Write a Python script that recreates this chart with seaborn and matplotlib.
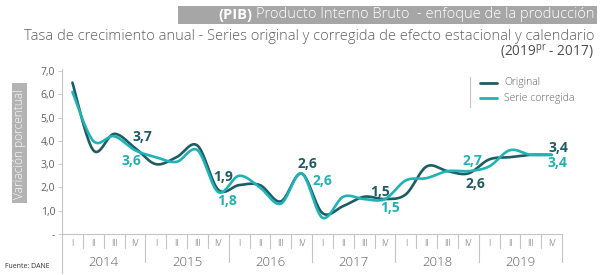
import numpy as np
import pandas as pd
import seaborn as sns
import matplotlib.pyplot as plt
from matplotlib.lines import Line2D
from matplotlib.patches import Rectangle

sns.set_theme(style="white")
plt.rcParams['font.family'] = ['Open Sans', 'DejaVu Sans']

# --- data -------------------------------------------------------------------
years = ['2014', '2015', '2016', '2017', '2018', '2019']
quarters = ['I', 'II', 'III', 'IV']
original = [6.5, 3.6, 4.3, 3.7, 3.0, 3.3, 3.8, 1.9, 2.1, 2.1, 1.4, 2.6,
            0.9, 1.2, 1.6, 1.5, 1.7, 2.9, 2.7, 2.6, 3.2, 3.3, 3.4, 3.4]
corregida = [6.1, 4.0, 4.2, 3.6, 3.3, 3.1, 3.6, 1.8, 2.5, 2.0, 1.3, 2.6,
             0.7, 1.6, 1.5, 1.5, 2.3, 2.4, 2.7, 2.7, 2.9, 3.6, 3.4, 3.4]
y_ticks = [0, 1, 2, 3, 4, 5, 6, 7]
y_ticklabels = ['-', '1,0', '2,0', '3,0', '4,0', '5,0', '6,0', '7,0']

DARK = '#1d5c64'
CYAN = '#1fb3b6'
GREY = '#5f5f5f'
LINEC = '#c4c4c4'

W, H = 601, 275


def fx(x):
    return x / W


def fy(y):
    return 1 - y / H


def smooth(xs, ys, n=20):
    # Excel-style smoothed line (Catmull-Rom through the points)
    p = np.column_stack([xs, ys]).astype(float)
    p = np.vstack([p[0], p, p[-1]])
    out = []
    for i in range(1, len(p) - 2):
        p0, p1, p2, p3 = p[i - 1], p[i], p[i + 1], p[i + 2]
        c1 = p1 + (p2 - p0) / 6
        c2 = p2 - (p3 - p1) / 6
        t = np.linspace(0, 1, n, endpoint=False)[:, None]
        seg = ((1 - t) ** 3) * p1 + 3 * ((1 - t) ** 2) * t * c1 \
            + 3 * (1 - t) * t ** 2 * c2 + t ** 3 * p2
        out.append(seg)
    out.append(p[-2][None, :])
    out = np.vstack(out)
    return out[:, 0], out[:, 1]


xq = np.arange(len(original)) + 0.5

fig = plt.figure(figsize=(W / 100, H / 100), dpi=100)
ax_h = 163
ax = fig.add_axes([fx(62), fy(234), 500 / W, ax_h / H])

for vals, col in [(original, DARK), (corregida, CYAN)]:
    sx, sy = smooth(xq, vals)
    df = pd.DataFrame({'x': sx, 'y': sy})
    sns.lineplot(data=df, x='x', y='y', sort=False, estimator=None,
                 color=col, linewidth=1.9, ax=ax)

ax.set_xlim(0, 24)
ax.set_ylim(0, 7)
ax.set_xlabel('')
ax.set_ylabel('')
for s in ['top', 'right', 'left']:
    ax.spines[s].set_visible(False)
ax.spines['bottom'].set_color(LINEC)
ax.spines['bottom'].set_linewidth(0.8)
ax.set_xticks([])
ax.set_yticks(y_ticks)
ax.set_yticklabels(y_ticklabels, fontsize=7.5, color=GREY)
ax.tick_params(axis='y', length=3, width=0.6, color=LINEC, pad=2, left=True)

# y axis line (extends below into the category area)
ax.add_line(Line2D([0, 0], [1.01, -39 / ax_h], transform=ax.transAxes,
                   color=LINEC, lw=0.8, clip_on=False))

# category separators and labels
trans = ax.get_xaxis_transform()
for k in range(1, 25):
    depth = 28 / ax_h if k % 4 == 0 else 14 / ax_h
    ax.add_line(Line2D([k, k], [0, -depth], transform=trans,
                       color=LINEC, lw=0.8, clip_on=False))
for i in range(24):
    ax.text(i + 0.5, -9 / ax_h, quarters[i % 4], transform=trans,
            ha='center', va='center', fontsize=6.5, color=GREY,
            fontweight='light')
for j, yr in enumerate(years):
    ax.text(j * 4 + 2, -28 / ax_h, yr, transform=trans,
            ha='center', va='center', fontsize=9.5, color=GREY,
            fontweight='light')

# data labels at each fourth quarter
offsets_o = [(8, 11), (5, 13), (6, 9), (-5, 7), (7, -11), (7, 7)]
offsets_c = [(-3, -11), (9, -9), (21, -8), (5, -9), (4, 10), (6, -8)]
for j in range(6):
    i = j * 4 + 3
    ax.annotate(f'{original[i]:.1f}'.replace('.', ','), (xq[i], original[i]),
                xytext=offsets_o[j], textcoords='offset pixels',
                ha='center', va='center', fontsize=10, fontweight='bold',
                color=DARK)
    ax.annotate(f'{corregida[i]:.1f}'.replace('.', ','), (xq[i], corregida[i]),
                xytext=offsets_c[j], textcoords='offset pixels',
                ha='center', va='center', fontsize=10, fontweight='bold',
                color=CYAN)

# legend
fig.add_artist(Line2D([fx(470), fx(470)], [fy(77), fy(107)], color=LINEC, lw=0.8))
for yy, col, lab in [(83, DARK, 'Original'), (98, CYAN, 'Serie corregida')]:
    fig.add_artist(Line2D([fx(480), fx(497)], [fy(yy), fy(yy)], color=col, lw=2))
    fig.text(fx(504), fy(yy), lab, fontsize=7.5, color=GREY, va='center',
             ha='left', fontweight='light')

# y label box
fig.add_artist(Rectangle((fx(12), fy(203)), 15 / W, 120 / H,
                         transform=fig.transFigure, color='#b3b3b3', lw=0))
fig.text(fx(19.5), fy(144), 'Variación porcentual', rotation=90,
         ha='center', va='center', fontsize=8.6, color='white',
         fontweight='light')

# titles
fig.add_artist(Rectangle((fx(178), fy(24)), 419 / W, 18 / H,
                         transform=fig.transFigure, color='#a6a6a6', lw=0))
t1 = fig.text(fx(594), fy(15), 'Producto Interno Bruto  - enfoque de la producción',
              fontsize=10.5, color='white', ha='right', va='center',
              fontweight='light')
fig.canvas.draw()
bb = t1.get_window_extent()
fig.text(bb.x0 / W - 3 / W, fy(15), '(PIB)', fontsize=10.5, color='white',
         ha='right', va='center', fontweight='bold')
fig.text(fx(594), fy(37), 'Tasa de crecimiento anual - Series original y corregida '
         'de efecto estacional y calendario', fontsize=10.5, color=GREY,
         ha='right', va='center', fontweight='light')
fig.text(fx(594), fy(53), r'(2019$^{\mathregular{pr}}$ - 2017)', fontsize=9.8,
         color='#4d4d4d', ha='right', va='center')

fig.text(fx(5), fy(266), 'Fuente: DANE', fontsize=5, color='#333333',
         ha='left', va='center')

fig.savefig('out.png', dpi=100)
